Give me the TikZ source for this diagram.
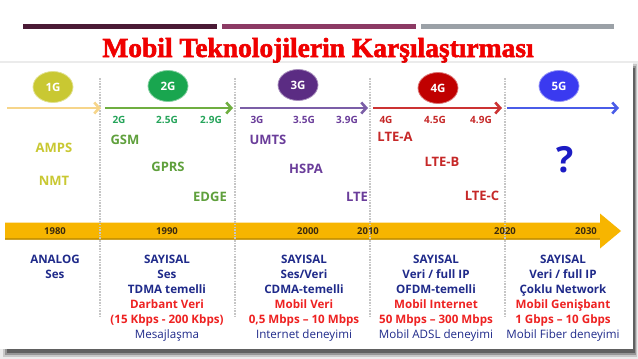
\documentclass[tikz,border=0pt]{standalone}
\usepackage{fontspec}
\setmainfont{Open Sans}
\newfontfamily\titlefont[FakeBold=2]{Liberation Serif}
\usetikzlibrary{arrows.meta,shapes.geometric}
\definecolor{barA}{HTML}{4A1A35}
\definecolor{barB}{HTML}{8C3A64}
\definecolor{barC}{HTML}{9BA1A7}
\definecolor{titlered}{HTML}{F00000}
\definecolor{cOne}{HTML}{C9C832}
\definecolor{cOneArrow}{HTML}{F6D58A}
\definecolor{cTwo}{HTML}{19A64F}
\definecolor{cTwoSub}{HTML}{25A45A}
\definecolor{cTwoTech}{HTML}{5FA03C}
\definecolor{cTwoArrow}{HTML}{6FAE40}
\definecolor{cThree}{HTML}{5B2C83}
\definecolor{cThreeTech}{HTML}{6A3D9A}
\definecolor{cThreeArrow}{HTML}{7B5EA7}
\definecolor{cFour}{HTML}{C00000}
\definecolor{cFourTech}{HTML}{C62828}
\definecolor{cFourArrow}{HTML}{CC3333}
\definecolor{cFive}{HTML}{3A3AF0}
\definecolor{cFiveArrow}{HTML}{4A5CE8}
\definecolor{qblue}{HTML}{1C1CC4}
\definecolor{band}{HTML}{F7B500}
\definecolor{yeartext}{HTML}{3A2A10}
\definecolor{navy}{HTML}{1F2A8A}
\definecolor{redtext}{HTML}{EE2222}
\tikzset{
  gencircle/.style={ellipse, minimum width=40pt, minimum height=31pt, inner sep=0pt,
    text=white, font=\bfseries\fontsize{11.5}{13}\selectfont, fill=#1, draw=#1!55!white, line width=0.8pt},
  genarrow/.style={draw=#1, line width=2.6pt, -{Straight Barb[length=5pt,width=11pt]}},
  sublabel/.style={text=#1, font=\bfseries\fontsize{10}{12}\selectfont, inner sep=0pt},
  techlabel/.style={text=#1, font=\bfseries\fontsize{13}{15}\selectfont, inner sep=0pt},
  yearlabel/.style={text=yeartext, font=\bfseries\fontsize{9.5}{10}\selectfont, inner sep=0pt},
  desc/.style={align=center, inner sep=0pt, font=\fontsize{11.6}{15}\selectfont, anchor=north},
  sepline/.style={draw=gray!45, line width=2.6pt, dash pattern=on 1.6pt off 1.1pt},
}
\newcommand{\bl}[1]{\textcolor{navy}{\textbf{#1}}}
\newcommand{\rd}[1]{\textcolor{redtext}{\textbf{#1}}}
\newcommand{\nb}[1]{\textcolor{navy}{#1}}
\begin{document}
\begin{tikzpicture}[x=1pt,y=-1pt]
\useasboundingbox (0,0) rectangle (638,359);
\fill[white] (0,0) rectangle (638,359);
% top bars
\fill[barA] (23,24) rectangle (217,28.5);
\fill[barB] (222,24) rectangle (416,28.5);
\fill[barC] (421,24) rectangle (614,28.5);
% title
\node[text=titlered, font=\titlefont\bfseries\fontsize{27.5}{30}\selectfont, inner sep=0pt, anchor=base] (title) at (318,57) {Mobil Teknolojilerin Karşılaştırması};
% panel with shadow
\fill[black, opacity=0.08] (0,61) rectangle (638,359);
\fill[black, opacity=0.15] (3,64) rectangle (637,357);
\fill[black, opacity=0.25] (5,66) rectangle (636,355);
\fill[black, opacity=0.35] (7,68) rectangle (635,353);
\fill[white] (0,63) rectangle (633,349);
% separators
\foreach \x/\n in {100/a,235/b,370/c,505/d}{
  \coordinate (s\n top) at (\x,78);
  \coordinate (s\n bot) at (\x,318);
}
% yellow timeline band
\fill[band] (5,222.5) -- (600,222.5) -- (600,213.5) -- (621,231) -- (600,248.5) -- (600,239.5) -- (5,239.5) -- cycle;
\fill[black!35!band, opacity=0.5] (5,238) -- (600,238) -- (600,239.5) -- (5,239.5) -- cycle;
\foreach \n in {a,b,c,d}{ \draw[sepline] (s\n top) -- (s\n bot); }
% generation circles
\node[gencircle=cOne] (g1) at (53,87) {1G};
\node[gencircle=cTwo] (g2) at (168,86) {2G};
\node[gencircle=cThree] (g3) at (298,85) {3G};
\node[gencircle=cFour] (g4) at (438,88) {4G};
\node[gencircle=cFive] (g5) at (559,86) {5G};
% arrows
\coordinate (a1s) at (7,108); \coordinate (a1e) at (101,108);
\coordinate (a2s) at (105,108); \coordinate (a2e) at (233,108);
\coordinate (a3s) at (240,108); \coordinate (a3e) at (368,108);
\coordinate (a4s) at (373,108); \coordinate (a4e) at (502,108);
\coordinate (a5s) at (507,108); \coordinate (a5e) at (619,108);
\draw[genarrow=cOneArrow] (a1s) -- (a1e);
\draw[genarrow=cTwoArrow] (a2s) -- (a2e);
\draw[genarrow=cThreeArrow] (a3s) -- (a3e);
\draw[genarrow=cFourArrow] (a4s) -- (a4e);
\draw[genarrow=cFiveArrow] (a5s) -- (a5e);
% sub labels
\node[sublabel=cTwoSub] (s2a) at (119,120) {2G};
\node[sublabel=cTwoSub] (s2b) at (167,120) {2.5G};
\node[sublabel=cTwoSub] (s2c) at (211,120) {2.9G};
\node[sublabel=cThreeTech] (s3a) at (257,120) {3G};
\node[sublabel=cThreeTech] (s3b) at (304,120) {3.5G};
\node[sublabel=cThreeTech] (s3c) at (347,120) {3.9G};
\node[sublabel=cFourTech] (s4a) at (386,120) {4G};
\node[sublabel=cFourTech] (s4b) at (435,120) {4.5G};
\node[sublabel=cFourTech] (s4c) at (481,120) {4.9G};
% technologies
\node[techlabel=cOne] (amps) at (54,148) {AMPS};
\node[techlabel=cOne] (nmt) at (54,181) {NMT};
\node[techlabel=cTwoTech] (gsm) at (125,140) {GSM};
\node[techlabel=cTwoTech] (gprs) at (168,167) {GPRS};
\node[techlabel=cTwoTech] (edge) at (210,197) {EDGE};
\node[techlabel=cThreeTech] (umts) at (268,140) {UMTS};
\node[techlabel=cThreeTech] (hspa) at (306,169) {HSPA};
\node[techlabel=cThreeTech] (lte) at (357,197) {LTE};
\node[techlabel=cFourTech] (ltea) at (395,137) {LTE-A};
\node[techlabel=cFourTech] (lteb) at (442,162) {LTE-B};
\node[techlabel=cFourTech] (ltec) at (482,196) {LTE-C};
\node[text=qblue, font=\bfseries\fontsize{36}{38}\selectfont, inner sep=0pt] (q) at (565,160) {?};
% years
\node[yearlabel] (y1980) at (55,231) {1980};
\node[yearlabel] (y1990) at (167,231) {1990};
\node[yearlabel] (y2000) at (308,231) {2000};
\node[yearlabel] (y2010) at (368,231) {2010};
\node[yearlabel] (y2020) at (505,231) {2020};
\node[yearlabel] (y2030) at (586,231) {2030};
% descriptions
\node[desc] (d1) at (55,255) {\bl{ANALOG}\\\bl{Ses}};
\node[desc] (d2) at (167,255) {\bl{SAYISAL}\\\bl{Ses}\\\bl{TDMA temelli}\\\rd{Darbant Veri}\\\rd{(15 Kbps - 200 Kbps)}\\\nb{Mesajlaşma}};
\node[desc] (d3) at (304,255) {\bl{SAYISAL}\\\bl{Ses/Veri}\\\bl{CDMA-temelli}\\\rd{Mobil Veri}\\\rd{0,5 Mbps – 10 Mbps}\\\nb{Internet deneyimi}};
\node[desc] (d4) at (436,255) {\bl{SAYISAL}\\\bl{Veri / full IP}\\\bl{OFDM-temelli}\\\rd{Mobil Internet}\\\rd{50 Mbps – 300 Mbps}\\\nb{Mobil ADSL deneyimi}};
\node[desc] (d5) at (563,255) {\bl{SAYISAL}\\\bl{Veri / full IP}\\\bl{Çoklu Network}\\\rd{Mobil Genişbant}\\\rd{1 Gbps – 10 Gbps}\\\nb{Mobil Fiber deneyimi}};
\end{tikzpicture}
\end{document}
